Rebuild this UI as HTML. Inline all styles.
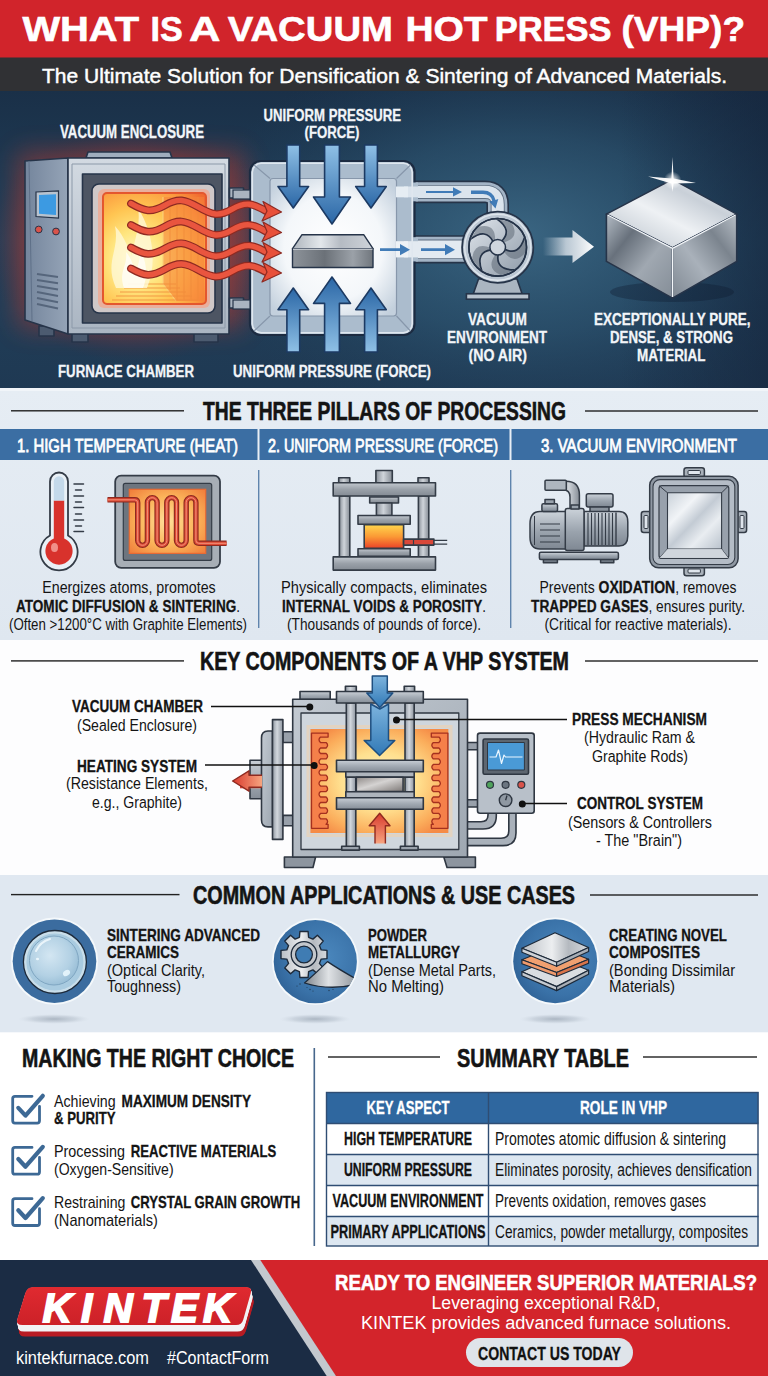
<!DOCTYPE html>
<html lang="en"><head><meta charset="utf-8"><title>What is a Vacuum Hot Press (VHP)?</title>
<style>
html,body{margin:0;padding:0;background:#fff;}
body{width:768px;height:1376px;overflow:hidden;font-family:"Liberation Sans", Arial, sans-serif;}
svg{display:block;font-family:"Liberation Sans", Arial, sans-serif;}
text{white-space:pre;}
</style></head><body>
<svg width="768" height="1376" viewBox="0 0 768 1376">
<!-- s0_defs -->
<g id="s0_defs">
</g>
<!-- s1_header -->
<g id="s1_header">

<rect x="0" y="0" width="768" height="58" fill="#d1242b"/>
<rect x="0" y="57.5" width="768" height="34" fill="#303134"/>
<text x="22.4" y="41.0" font-size="35.5" font-weight="700" fill="#fff" textLength="116.7" lengthAdjust="spacingAndGlyphs" stroke="#fff" stroke-width="0.6">WHAT</text>
<text x="150.6" y="41.0" font-size="35.5" font-weight="700" fill="#fff" textLength="32.3" lengthAdjust="spacingAndGlyphs" stroke="#fff" stroke-width="0.6">IS</text>
<text x="189.0" y="41.0" font-size="35.5" font-weight="700" fill="#fff" textLength="31.4" lengthAdjust="spacingAndGlyphs" stroke="#fff" stroke-width="0.6">A</text>
<text x="227.8" y="41.0" font-size="35.5" font-weight="700" fill="#fff" textLength="165.1" lengthAdjust="spacingAndGlyphs" stroke="#fff" stroke-width="0.6">VACUUM</text>
<text x="405.4" y="41.0" font-size="35.5" font-weight="700" fill="#fff" textLength="82.2" lengthAdjust="spacingAndGlyphs" stroke="#fff" stroke-width="0.6">HOT</text>
<text x="494.7" y="41.0" font-size="35.5" font-weight="700" fill="#fff" textLength="116.9" lengthAdjust="spacingAndGlyphs" stroke="#fff" stroke-width="0.6">PRESS</text>
<text x="621.4" y="41.0" font-size="35.5" font-weight="700" fill="#fff" textLength="123.7" lengthAdjust="spacingAndGlyphs" stroke="#fff" stroke-width="0.6">(VHP)?</text>
<text x="42" y="83.2" font-size="21" font-weight="400" fill="#fff" textLength="685" lengthAdjust="spacingAndGlyphs" stroke="#fff" stroke-width="0.45">The Ultimate Solution for Densification &amp; Sintering of Advanced Materials.</text>
</g>
<!-- s2_hero -->
<g id="s2_hero">

<defs>
<linearGradient id="hBg" x1="0" y1="0" x2="0" y2="1">
 <stop offset="0" stop-color="#1a3048"/><stop offset="0.5" stop-color="#21405a"/><stop offset="1" stop-color="#1f3953"/>
</linearGradient>
<radialGradient id="hGlow" gradientUnits="userSpaceOnUse" cx="520" cy="235" r="330" gradientTransform="translate(0 94) scale(1 0.6)">
 <stop offset="0" stop-color="#3f6c89" stop-opacity="0.85"/><stop offset="0.5" stop-color="#315c79" stop-opacity="0.5"/><stop offset="1" stop-color="#1f3f5c" stop-opacity="0"/>
</radialGradient>
<linearGradient id="hVig" x1="0" y1="0" x2="1" y2="0"><stop offset="0" stop-color="#14233a" stop-opacity="0"/><stop offset="1" stop-color="#14233a" stop-opacity="0.55"/></linearGradient>
<filter id="blur9" x="-20%" y="-20%" width="140%" height="140%"><feGaussianBlur stdDeviation="12"/></filter>
<radialGradient id="hRed" gradientUnits="userSpaceOnUse" cx="135" cy="243" r="150" gradientTransform="translate(0 48.600) scale(1 0.8)">
 <stop offset="0" stop-color="#d0402e" stop-opacity="0.8"/><stop offset="0.62" stop-color="#a83a34" stop-opacity="0.5"/><stop offset="0.82" stop-color="#7a3038" stop-opacity="0.22"/><stop offset="1" stop-color="#5a2a35" stop-opacity="0"/>
</radialGradient>
<linearGradient id="fSide" x1="0" y1="0" x2="1" y2="0"><stop offset="0" stop-color="#74859c"/><stop offset="1" stop-color="#95a4b7"/></linearGradient>
<linearGradient id="fFront" x1="0" y1="0" x2="0" y2="1"><stop offset="0" stop-color="#d3dae2"/><stop offset="1" stop-color="#aab5c2"/></linearGradient>
<radialGradient id="fFire" cx="0.33" cy="0.6" r="0.85">
 <stop offset="0" stop-color="#fffbd0"/><stop offset="0.3" stop-color="#ffe680"/><stop offset="0.55" stop-color="#ffc552"/><stop offset="0.8" stop-color="#fb9a3f"/><stop offset="1" stop-color="#f06a30"/>
</radialGradient>
<radialGradient id="chGlow" cx="0.5" cy="0.5" r="0.65">
 <stop offset="0" stop-color="#ffffff"/><stop offset="0.6" stop-color="#f4f7fa"/><stop offset="1" stop-color="#c3d0dd"/>
</radialGradient>
<linearGradient id="bArrD" x1="0" y1="0" x2="0" y2="1"><stop offset="0" stop-color="#8fc0e6"/><stop offset="1" stop-color="#2b67a6"/></linearGradient>
<linearGradient id="bArrU" x1="0" y1="1" x2="0" y2="0"><stop offset="0" stop-color="#8fc0e6"/><stop offset="1" stop-color="#2b67a6"/></linearGradient>
<linearGradient id="blkTop" x1="0" y1="0" x2="1" y2="0"><stop offset="0" stop-color="#aeb5bd"/><stop offset="0.35" stop-color="#e3e7eb"/><stop offset="0.6" stop-color="#b5bbc3"/><stop offset="1" stop-color="#cfd4da"/></linearGradient>
<linearGradient id="blkFront" x1="0" y1="0" x2="1" y2="0"><stop offset="0" stop-color="#8d939a"/><stop offset="0.4" stop-color="#6b7178"/><stop offset="0.75" stop-color="#9ba1a8"/><stop offset="1" stop-color="#70767d"/></linearGradient>
<linearGradient id="bigArr" gradientUnits="userSpaceOnUse" x1="543" y1="0" x2="594" y2="0"><stop offset="0" stop-color="#dfe6ee" stop-opacity="0"/><stop offset="0.45" stop-color="#e6ebf1" stop-opacity="0.75"/><stop offset="1" stop-color="#ffffff"/></linearGradient>
<linearGradient id="cTop" x1="0" y1="1" x2="1" y2="0"><stop offset="0" stop-color="#b4bdc7"/><stop offset="0.45" stop-color="#eef1f4"/><stop offset="0.7" stop-color="#c9d0d8"/><stop offset="1" stop-color="#f7f9fb"/></linearGradient>
<linearGradient id="cLeft" x1="0" y1="0" x2="1" y2="1"><stop offset="0" stop-color="#b4bcc5"/><stop offset="0.3" stop-color="#68717c"/><stop offset="0.6" stop-color="#a0a8b1"/><stop offset="1" stop-color="#848d97"/></linearGradient>
<linearGradient id="cRight" x1="0" y1="1" x2="1" y2="0"><stop offset="0" stop-color="#7f8892"/><stop offset="0.4" stop-color="#a9b1ba"/><stop offset="0.7" stop-color="#7b848e"/><stop offset="1" stop-color="#b9c0c8"/></linearGradient>
<radialGradient id="spark" cx="0.5" cy="0.5" r="0.5"><stop offset="0" stop-color="#fff"/><stop offset="0.4" stop-color="#fff" stop-opacity="0.6"/><stop offset="1" stop-color="#fff" stop-opacity="0"/></radialGradient>
<linearGradient id="fanG" x1="0" y1="0" x2="1" y2="1"><stop offset="0" stop-color="#dfe5eb"/><stop offset="1" stop-color="#8e9aa8"/></linearGradient>
</defs>
<rect x="0" y="91" width="768" height="298" fill="url(#hBg)"/>
<rect x="0" y="91" width="768" height="298" fill="url(#hGlow)"/>
<rect x="0" y="91" width="420" height="298" fill="url(#hRed)"/>
<rect x="620" y="91" width="148" height="298" fill="url(#hVig)"/>
<rect x="16" y="150" width="230" height="180" rx="10" fill="#bb3d30" opacity="0.45" filter="url(#blur9)"/>

<g stroke="#263449" stroke-width="1.6" stroke-linejoin="round">
 <!-- feet -->
 <path d="M39 326h15v10h-15z M72 333h16v9h-16z M194 333h24v9h-24z" fill="#4c5b70"/>
 <!-- top vent -->
 <path d="M86 158l2-6h82l2 6z" fill="#9fadbd"/>
 <!-- left side -->
 <path d="M25 161L68 158V334L25 320Z" fill="url(#fSide)"/>
 <path d="M29 161L32 321" stroke="#5f7088" stroke-width="1" fill="none"/>
 <!-- front -->
 <rect x="68" y="158" width="161" height="176" fill="url(#fFront)"/>
 <rect x="72" y="164" width="153" height="164" fill="none" stroke="#8c99a9" stroke-width="1"/>
 <!-- hinges -->
 <rect x="229.5" y="188" width="14" height="10" fill="#aab4c0"/>
 <rect x="229.5" y="298" width="14" height="10" fill="#aab4c0"/>
 <!-- dark inner -->
 <rect x="82.5" y="174" width="139.5" height="149" fill="#4d5563"/>
 <rect x="92" y="184" width="123" height="129" rx="7" fill="#cfc8c8"/>
 <rect x="98" y="189" width="112" height="119" rx="6" fill="#f3a48a" stroke="none" opacity="0.7"/>
 <rect x="103" y="193" width="103" height="111" rx="4" fill="url(#fFire)" stroke="#e4572e" stroke-width="2"/>
</g>
<!-- fire interior details -->
<path d="M163 197H204V301H176L163 284Z" fill="#f5823a" opacity="0.55"/>
<path d="M163 197V284L176 301" fill="none" stroke="#fbd27a" stroke-width="1.200" opacity="0.9"/>
<g fill="none" stroke="#f08a3a" stroke-width="1" opacity="0.8">
 <path d="M170 197V290M177 197V300M184 197V300M191 197V300M198 197V300"/>
 <path d="M112 300H198M116 296H192M120 292H186M124 288H180M128 284H176"/>
 
</g>
<path d="M116 288C104 262 120 250 115 226C126 238 128 250 132 256C134 240 141 226 138 208C152 230 158 262 147 288Z" fill="#fff8d8" opacity="0.78"/>
<path d="M124 288C118 272 128 266 126 252C133 260 133 268 136 272C138 264 141 258 140 250C147 262 148 276 143 288Z" fill="#ffffff" opacity="0.7"/>
<!-- screen / dots / vents -->
<path d="M36 192L58.5 191V218L36 216.5Z" fill="#b8c3cf" stroke="#263449" stroke-width="1.2"/>
<path d="M39 195L56 194.3V215L39 213.8Z" fill="#3c9ae2"/>
<circle cx="38.7" cy="229.5" r="3.4" fill="#d9534a" stroke="#263449" stroke-width="1"/>
<circle cx="56" cy="231.5" r="3.4" fill="#d9534a" stroke="#263449" stroke-width="1"/>
<g stroke="#56667c" stroke-width="2" fill="none">
 <path d="M37 274l21 3M37 280l21 3.3M37 286l21 3.6M37 292l21 3.9M37 298l21 4.2M37 304l21 4.5"/>
</g>

<g fill="none" stroke-linejoin="round">
 <path d="M404 191.900H485Q497.700 191.900 497.700 204.500V224" stroke="#263449" stroke-width="22.600"/>
 <path d="M404 249.300H470" stroke="#263449" stroke-width="28.200"/>
 <path d="M404 191.900H485Q497.700 191.900 497.700 204.500V224" stroke="#a3b4c6" stroke-width="19.400"/>
 <path d="M404 249.300H470" stroke="#a3b4c6" stroke-width="25"/>
 <path d="M404 191.900H485Q497.700 191.900 497.700 204.500V224" stroke="#263449" stroke-width="14" opacity="0.55"/>
 <path d="M404 249.300H470" stroke="#263449" stroke-width="19.600" opacity="0.55"/>
 <path d="M404 191.900H485Q497.700 191.900 497.700 204.500V224" stroke="#dbe4ed" stroke-width="12.200"/>
 <path d="M404 249.300H470" stroke="#e3eaf1" stroke-width="17.800"/>
</g>
<g stroke="#1c2b41" stroke-width="2.200" stroke-linejoin="round">
 <rect x="250" y="161" width="164.500" height="174" rx="11" fill="#abbccd"/>
</g>
<!-- junction fills hide chamber outline where pipes attach -->
<rect x="408" y="182.500" width="10" height="18.800" fill="#abbccd"/>
<rect x="408" y="237.200" width="10" height="24.200" fill="#abbccd"/>
<rect x="404" y="186.500" width="16" height="10.800" fill="#dbe4ed"/>
<rect x="404" y="241.200" width="16" height="16.200" fill="#e3eaf1"/>
<rect x="252.300" y="163.300" width="159.900" height="169.400" rx="9" fill="none" stroke="#dfe7ef" stroke-width="1.600"/>
<rect x="270" y="178.500" width="126.500" height="137.500" rx="3" fill="url(#chGlow)" stroke="#8797ab" stroke-width="1.200"/>
<path d="M254 165L270 178.500M410.500 165L396.500 178.500M254 331L270 316M410.500 331L396.500 316" stroke="#8797ab" stroke-width="1.200"/>
<rect x="396" y="186.500" width="12" height="10.800" fill="#e6edf3"/>
<rect x="396" y="241.200" width="12" height="16.200" fill="#eef2f6"/>
<!-- door tabs left -->
<rect x="233" y="190" width="17" height="9" fill="#aab4c0" stroke="#263449" stroke-width="1.200"/>
<rect x="233" y="300" width="17" height="9" fill="#aab4c0" stroke="#263449" stroke-width="1.200"/>
<!-- small blue arrows in pipes -->
<g fill="#2f6fb0">
 <path d="M426 190.900h27v-3.600l9 4.600-9 4.600v-3.600h-27z" opacity="0.9"/>
 <path d="M471 190.400h12q10 0 12.500 9.500l2.800-.8-2.800 9.400-6.200-7 3-.8q-1.800-6.800-9.300-6.800h-12z" opacity="0.9"/>
 <path d="M380 248.300h20v-4.200l10 5.600-10 5.600v-4.200h-20z" opacity="0.9"/>
 <path d="M421 248.300h24v-4.200l10 5.600-10 5.600v-4.200h-24z" opacity="0.9"/>
</g>
<path d="M286.90000000000003 145H299.7V186.5H308.6L293.3 208L278.0 186.5H286.90000000000003Z" fill="url(#bArrD)" stroke="#1c3a63" stroke-width="1.6" stroke-linejoin="round"/>
<path d="M324.6 145H339.4V197H350.5L332 224L313.5 197H324.6Z" fill="url(#bArrD)" stroke="#1c3a63" stroke-width="1.6" stroke-linejoin="round"/>
<path d="M364.6 145H377.4V186.5H386.3L371 208L355.7 186.5H364.6Z" fill="url(#bArrD)" stroke="#1c3a63" stroke-width="1.6" stroke-linejoin="round"/>
<path d="M286.90000000000003 352H299.7V309.7H308.6L293.3 288L278.0 309.7H286.90000000000003Z" fill="url(#bArrU)" stroke="#1c3a63" stroke-width="1.6" stroke-linejoin="round"/>
<path d="M324.6 352H339.4V303.4H350.5L332 277L313.5 303.4H324.6Z" fill="url(#bArrU)" stroke="#1c3a63" stroke-width="1.6" stroke-linejoin="round"/>
<path d="M364.6 352H377.4V309.7H386.3L371 288L355.7 309.7H364.6Z" fill="url(#bArrU)" stroke="#1c3a63" stroke-width="1.6" stroke-linejoin="round"/>

<path d="M302 234.700H363.700L373 248.700H292.500Z" fill="url(#blkTop)" stroke="#263449" stroke-width="1.4" stroke-linejoin="round"/>
<path d="M292.500 248.700H373V267.500H292.500Z" fill="url(#blkFront)" stroke="#263449" stroke-width="1.4" stroke-linejoin="round"/>
<path d="M293 249.200H372.500" stroke="#eef1f4" stroke-width="1"/>
<path d="M131 203.5 C144.5 211.3 151.2 213.2 164.8 205.4 C178.2 197.6 185.0 199.4 198.5 207.2 C212.0 215.1 218.8 216.9 232.2 209.1 C245.8 201.3 252.5 203.2 266.0 211.0" fill="none" stroke="#8e2a22" stroke-width="7.8" stroke-linecap="round"/>
<path d="M131 203.5 C144.5 211.3 151.2 213.2 164.8 205.4 C178.2 197.6 185.0 199.4 198.5 207.2 C212.0 215.1 218.8 216.9 232.2 209.1 C245.8 201.3 252.5 203.2 266.0 211.0" fill="none" stroke="#e9553f" stroke-width="5.4" stroke-linecap="round"/>
<path d="M263 201.5L281.5 212L262 221L267 211Z" fill="#e8503a" stroke="#8e2a22" stroke-width="1.2" stroke-linejoin="round"/>
<path d="M131 225 C144.5 232.8 151.2 234.4 164.8 226.6 C178.2 218.8 185.0 220.4 198.5 228.2 C212.0 236.1 218.8 237.7 232.2 229.9 C245.8 222.1 252.5 223.7 266.0 231.5" fill="none" stroke="#8e2a22" stroke-width="7.8" stroke-linecap="round"/>
<path d="M131 225 C144.5 232.8 151.2 234.4 164.8 226.6 C178.2 218.8 185.0 220.4 198.5 228.2 C212.0 236.1 218.8 237.7 232.2 229.9 C245.8 222.1 252.5 223.7 266.0 231.5" fill="none" stroke="#e9553f" stroke-width="5.4" stroke-linecap="round"/>
<path d="M263 222.0L281.5 232.5L262 241.5L267 231.5Z" fill="#e8503a" stroke="#8e2a22" stroke-width="1.2" stroke-linejoin="round"/>
<path d="M131 247.5 C144.5 255.3 151.2 256.4 164.8 248.6 C178.2 240.8 185.0 241.9 198.5 249.8 C212.0 257.6 218.8 258.7 232.2 250.9 C245.8 243.1 252.5 244.2 266.0 252.0" fill="none" stroke="#8e2a22" stroke-width="7.8" stroke-linecap="round"/>
<path d="M131 247.5 C144.5 255.3 151.2 256.4 164.8 248.6 C178.2 240.8 185.0 241.9 198.5 249.8 C212.0 257.6 218.8 258.7 232.2 250.9 C245.8 243.1 252.5 244.2 266.0 252.0" fill="none" stroke="#e9553f" stroke-width="5.4" stroke-linecap="round"/>
<path d="M263 242.5L281.5 253L262 262L267 252Z" fill="#e8503a" stroke="#8e2a22" stroke-width="1.2" stroke-linejoin="round"/>
<path d="M131 268.5 C144.5 276.3 151.2 277.2 164.8 269.4 C178.2 261.6 185.0 262.4 198.5 270.2 C212.0 278.1 218.8 278.9 232.2 271.1 C245.8 263.3 252.5 264.2 266.0 272.0" fill="none" stroke="#8e2a22" stroke-width="7.8" stroke-linecap="round"/>
<path d="M131 268.5 C144.5 276.3 151.2 277.2 164.8 269.4 C178.2 261.6 185.0 262.4 198.5 270.2 C212.0 278.1 218.8 278.9 232.2 271.1 C245.8 263.3 252.5 264.2 266.0 272.0" fill="none" stroke="#e9553f" stroke-width="5.4" stroke-linecap="round"/>
<path d="M263 262.5L281.5 273L262 282L267 272Z" fill="#e8503a" stroke="#8e2a22" stroke-width="1.2" stroke-linejoin="round"/>

<path d="M478.500 279L473.400 293.600H522L517 279Z" fill="#aab5c1" stroke="#263449" stroke-width="1.600" stroke-linejoin="round"/>
<rect x="466.400" y="293.800" width="62.600" height="5.400" fill="#b9c3ce" stroke="#263449" stroke-width="1.600"/>
<circle cx="497.7" cy="247.3" r="35.600" fill="#bcc7d3" stroke="#263449" stroke-width="1.800"/>
<circle cx="497.7" cy="247.3" r="33" fill="none" stroke="#dfe6ed" stroke-width="1.400"/>
<circle cx="497.7" cy="247.3" r="28.800" fill="url(#fanG)" stroke="#263449" stroke-width="1.600"/>
<clipPath id="fanClip"><circle cx="497.7" cy="247.3" r="28"/></clipPath>
<g clip-path="url(#fanClip)">
<path d="M501.4 241.4Q513.1 230.2 496.7 218.8L511.1 222.1Q520.9 237.9 503.1 242.8Z" fill="#5f6a77" opacity="0.55"/>
<path d="M501.4 241.4Q513.1 230.2 496.7 218.8" fill="none" stroke="#263449" stroke-width="1.700" stroke-linecap="round"/>
<path d="M504.5 249.0Q518.7 256.7 524.5 237.6L525.8 252.2Q513.8 266.5 503.6 251.0Z" fill="#5f6a77" opacity="0.55"/>
<path d="M504.5 249.0Q518.7 256.7 524.5 237.6" fill="none" stroke="#263449" stroke-width="1.700" stroke-linecap="round"/>
<path d="M498.2 254.3Q495.3 270.2 515.2 269.8L501.7 275.5Q484.5 268.5 496.0 254.1Z" fill="#5f6a77" opacity="0.55"/>
<path d="M498.2 254.3Q495.3 270.2 515.2 269.8" fill="none" stroke="#263449" stroke-width="1.700" stroke-linecap="round"/>
<path d="M491.2 249.9Q475.2 252.1 481.8 270.9L472.1 259.8Q473.4 241.3 490.7 247.8Z" fill="#5f6a77" opacity="0.55"/>
<path d="M491.2 249.9Q475.2 252.1 481.8 270.9" fill="none" stroke="#263449" stroke-width="1.700" stroke-linecap="round"/>
<path d="M493.2 241.9Q486.2 227.4 470.3 239.4L477.9 226.8Q496.0 222.4 495.1 240.8Z" fill="#5f6a77" opacity="0.55"/>
<path d="M493.2 241.9Q486.2 227.4 470.3 239.4" fill="none" stroke="#263449" stroke-width="1.700" stroke-linecap="round"/>
</g>
<circle cx="497.7" cy="247.3" r="28.800" fill="none" stroke="#263449" stroke-width="1.600"/>
<circle cx="497.7" cy="247.3" r="7.800" fill="#cfd6de" stroke="#263449" stroke-width="1.500"/>
<path d="M543 237.500H572.500V230L594 246.800L572.500 263V255.400H543Z" fill="url(#bigArr)"/>

<ellipse cx="672" cy="292" rx="62" ry="10" fill="#0e1b2e" opacity="0.35"/>
<g stroke="#263449" stroke-width="1.6" stroke-linejoin="round">
<path d="M672.500 179.400L736.700 214.100L672.500 247.900L606.400 214.100Z" fill="url(#cTop)"/>
<path d="M606.400 214.100L672.500 247.900V298.100L606.400 261.400Z" fill="url(#cLeft)"/>
<path d="M736.700 214.100L672.500 247.900V298.100L736.700 261.400Z" fill="url(#cRight)"/>
</g>
<path d="M607.500 215L672.500 248.300L735.600 215M672.500 248.300V297" fill="none" stroke="#f4f7fa" stroke-width="1.4" stroke-linejoin="round"/>
<circle cx="672.500" cy="180.500" r="9" fill="url(#spark)"/>
<path d="M672.500 157L673.600 178.500L696 183L673.600 183.500L672.500 192L671.400 183.500L648 176.500L671.400 178.500Z" fill="#fff" opacity="0.95"/>
<text x="60" y="138.4" font-size="17.8" font-weight="700" fill="#f2f5f9" textLength="144" lengthAdjust="spacingAndGlyphs" stroke="#f2f5f9" stroke-width="0.3">VACUUM ENCLOSURE</text>
<text x="263.55" y="120.7" font-size="17.2" font-weight="700" fill="#f2f5f9" textLength="137.5" lengthAdjust="spacingAndGlyphs" stroke="#f2f5f9" stroke-width="0.3">UNIFORM PRESSURE</text>
<text x="304.5" y="137.8" font-size="17.2" font-weight="700" fill="#f2f5f9" textLength="55.0" lengthAdjust="spacingAndGlyphs" stroke="#f2f5f9" stroke-width="0.3">(FORCE)</text>
<text x="58" y="376.6" font-size="17.4" font-weight="700" fill="#f2f5f9" textLength="136" lengthAdjust="spacingAndGlyphs" stroke="#f2f5f9" stroke-width="0.3">FURNACE CHAMBER</text>
<text x="233" y="376.6" font-size="17.4" font-weight="700" fill="#f2f5f9" textLength="198" lengthAdjust="spacingAndGlyphs" stroke="#f2f5f9" stroke-width="0.3">UNIFORM PRESSURE (FORCE)</text>
<text x="468.0" y="325.4" font-size="17.4" font-weight="700" fill="#f2f5f9" textLength="59.0" lengthAdjust="spacingAndGlyphs" stroke="#f2f5f9" stroke-width="0.3">VACUUM</text>
<text x="447.0" y="343.4" font-size="17.4" font-weight="700" fill="#f2f5f9" textLength="100.0" lengthAdjust="spacingAndGlyphs" stroke="#f2f5f9" stroke-width="0.3">ENVIRONMENT</text>
<text x="468.45" y="361.4" font-size="17.4" font-weight="700" fill="#f2f5f9" textLength="58.5" lengthAdjust="spacingAndGlyphs" stroke="#f2f5f9" stroke-width="0.3">(NO AIR)</text>
<text x="593.95" y="325.4" font-size="17.4" font-weight="700" fill="#f2f5f9" textLength="156.5" lengthAdjust="spacingAndGlyphs" stroke="#f2f5f9" stroke-width="0.3">EXCEPTIONALLY PURE,</text>
<text x="610.0" y="343.4" font-size="17.4" font-weight="700" fill="#f2f5f9" textLength="123.0" lengthAdjust="spacingAndGlyphs" stroke="#f2f5f9" stroke-width="0.3">DENSE, &amp; STRONG</text>
<text x="637.05" y="361.4" font-size="17.4" font-weight="700" fill="#f2f5f9" textLength="68.5" lengthAdjust="spacingAndGlyphs" stroke="#f2f5f9" stroke-width="0.3">MATERIAL</text>
</g>
<!-- s3_pillars -->
<g id="s3_pillars">

<defs>
<linearGradient id="pBg" x1="0" y1="0" x2="0" y2="1"><stop offset="0" stop-color="#e6edf4"/><stop offset="1" stop-color="#dfe7f0"/></linearGradient>
<radialGradient id="htGlow" cx="0.5" cy="0.5" r="0.7"><stop offset="0" stop-color="#ffe09a"/><stop offset="0.55" stop-color="#fbb45a"/><stop offset="1" stop-color="#f07c3a"/></radialGradient>
<linearGradient id="hotS" x1="0" y1="0" x2="0" y2="1"><stop offset="0" stop-color="#ffd54d"/><stop offset="0.5" stop-color="#fb9a35"/><stop offset="1" stop-color="#ea4328"/></linearGradient>
<linearGradient id="stl" x1="0" y1="0" x2="0" y2="1"><stop offset="0" stop-color="#c3c9d0"/><stop offset="0.5" stop-color="#9aa1a9"/><stop offset="1" stop-color="#848b94"/></linearGradient>
<linearGradient id="stlH" x1="0" y1="0" x2="1" y2="0"><stop offset="0" stop-color="#8a919a"/><stop offset="0.45" stop-color="#cfd4da"/><stop offset="1" stop-color="#858c95"/></linearGradient>
<linearGradient id="glass" x1="0" y1="0" x2="1" y2="1"><stop offset="0" stop-color="#c9d1d9"/><stop offset="0.3" stop-color="#f1f4f7"/><stop offset="0.5" stop-color="#c3cbd4"/><stop offset="0.7" stop-color="#e9edf1"/><stop offset="1" stop-color="#b9c2cc"/></linearGradient>
<linearGradient id="pump" x1="0" y1="0" x2="0" y2="1"><stop offset="0" stop-color="#ccd3da"/><stop offset="0.55" stop-color="#9aa3ad"/><stop offset="1" stop-color="#7f8893"/></linearGradient>
</defs>
<rect x="0" y="388" width="768" height="252.500" fill="url(#pBg)"/>
<rect x="0" y="388" width="768" height="3" fill="#f1f5f9"/>
<rect x="0" y="429" width="768" height="31" fill="#3b6ea3"/>
<rect x="257.500" y="429" width="2" height="31" fill="#e8eef5"/>
<rect x="509.500" y="429" width="2" height="31" fill="#e8eef5"/>
<rect x="258" y="470" width="1.400" height="158" fill="#5f84ad"/>
<rect x="510" y="470" width="1.400" height="158" fill="#5f84ad"/>
<rect x="11" y="410.100" width="173" height="1.400" fill="#222"/>
<rect x="585" y="410.300" width="173" height="1.400" fill="#222"/>

<g stroke="#343c47" stroke-linejoin="round">
<path d="M50 481.500a9 9 0 0 1 18 0V535.500a18.600 18.600 0 1 1-18 0Z" fill="#e9f0f6" stroke-width="1.800"/>
<path d="M53.800 500.500H64.200V538.500a13.600 13.600 0 1 1-10.400 0Z" fill="#d8322c" stroke="none"/>
<path d="M53.800 481.500a5.200 5.200 0 0 1 10.400 0V500.500H53.800Z" fill="#c4d9ea" stroke="none"/>
</g>
<ellipse cx="54.500" cy="547.500" rx="3.500" ry="4.500" fill="#f4a19a" opacity="0.85"/>
<g stroke="#343c47" stroke-width="1.500" stroke-linecap="round">
<path d="M74 484H83.500M75.500 490H81.500M74 496H83.500M75.500 502H81.500M74 507.500H83.500M75.500 514H81.500M74 520H83.500M75.500 526H81.500M74 531.500H83.500"/>
</g>

<rect x="115.200" y="475.600" width="104.800" height="92.200" rx="6" fill="#a7aeb6" stroke="#343c47" stroke-width="1.800"/>
<rect x="123.300" y="483.400" width="88.400" height="77" rx="2" fill="#6d757f" stroke="#343c47" stroke-width="1.200"/>
<rect x="129.300" y="489.300" width="76.400" height="64.100" fill="url(#htGlow)" stroke="#e86a34" stroke-width="1.200"/>
<path d="M107.500 499.800H134.7Q137.7 499.800 137.7 502.8V540.5A4.8500000000000085 4.8500000000000085 0 0 0 147.4 540.5V502.5A4.8500000000000085 4.8500000000000085 0 0 1 157.1 502.5V540.5A4.8500000000000085 4.8500000000000085 0 0 0 166.8 540.5V502.5A4.8500000000000085 4.8500000000000085 0 0 1 176.5 502.5V540.5A4.8500000000000085 4.8500000000000085 0 0 0 186.2 540.5V502.5A4.8500000000000085 4.8500000000000085 0 0 1 195.9 502.5V540.3Q195.9 543.300 198.9 543.300H226.600" fill="none" stroke="#8d2a20" stroke-width="5.400" stroke-linejoin="round"/>
<path d="M107.500 499.800H134.7Q137.7 499.800 137.7 502.8V540.5A4.8500000000000085 4.8500000000000085 0 0 0 147.4 540.5V502.5A4.8500000000000085 4.8500000000000085 0 0 1 157.1 502.5V540.5A4.8500000000000085 4.8500000000000085 0 0 0 166.8 540.5V502.5A4.8500000000000085 4.8500000000000085 0 0 1 176.5 502.5V540.5A4.8500000000000085 4.8500000000000085 0 0 0 186.2 540.5V502.5A4.8500000000000085 4.8500000000000085 0 0 1 195.9 502.5V540.3Q195.9 543.300 198.9 543.300H226.600" fill="none" stroke="#de4a35" stroke-width="3.200" stroke-linejoin="round"/>
<path d="M107.500 499.800H134.7Q137.7 499.800 137.7 502.8V540.5A4.8500000000000085 4.8500000000000085 0 0 0 147.4 540.5V502.5A4.8500000000000085 4.8500000000000085 0 0 1 157.1 502.5V540.5A4.8500000000000085 4.8500000000000085 0 0 0 166.8 540.5V502.5A4.8500000000000085 4.8500000000000085 0 0 1 176.5 502.5V540.5A4.8500000000000085 4.8500000000000085 0 0 0 186.2 540.5V502.5A4.8500000000000085 4.8500000000000085 0 0 1 195.9 502.5V540.3Q195.9 543.300 198.9 543.300H226.600" fill="none" stroke="#f39a82" stroke-width="0.900" stroke-linejoin="round"/>

<g stroke="#343c47" stroke-width="1.600" stroke-linejoin="round">
<rect x="375.900" y="470.500" width="16.400" height="12.500" fill="url(#stlH)"/>
<rect x="338.700" y="477.800" width="11.100" height="5" fill="url(#stlH)"/>
<rect x="418" y="477.800" width="11" height="5" fill="url(#stlH)"/>
<rect x="339.400" y="496" width="10.400" height="61" fill="url(#stlH)"/>
<rect x="418.400" y="496" width="10.400" height="61" fill="url(#stlH)"/>
<rect x="333.200" y="482.700" width="102.300" height="13.300" fill="url(#stl)"/>
<rect x="369.700" y="497" width="28.800" height="6" fill="url(#stl)"/>
<rect x="376.400" y="503" width="15.500" height="12.500" fill="url(#stlH)"/>
<rect x="358" y="515.500" width="52.200" height="8.800" fill="url(#stl)"/>
<rect x="364.200" y="524.800" width="39.400" height="23.400" fill="url(#hotS)"/>
<rect x="358" y="548.700" width="52.200" height="7.500" fill="url(#stl)"/>
<rect x="333.200" y="556.900" width="102.300" height="13.200" fill="url(#stl)"/>
<path d="M433.900 540.300H447.200M433.900 544.200H447.200" stroke-width="1.300" fill="none"/>
<rect x="403.600" y="539.100" width="30.300" height="6" fill="#d9483a"/>
<path d="M413.500 539.100V545.100" stroke-width="1.200"/>
</g>

<g stroke="#343c47" stroke-width="1.500" stroke-linejoin="round">
<rect x="543.400" y="559" width="14" height="3.800" fill="#6f7883"/>
<rect x="600.600" y="559" width="13.200" height="3.800" fill="#6f7883"/>
<rect x="539.400" y="552.200" width="79" height="7.200" rx="1.500" fill="url(#pump)"/>
<!-- pipe -->
<path d="M570 512V497Q570 489.700 563 489.700H560V481.300H566Q579.400 481.300 579.400 495V512Z" fill="url(#stlH)"/>
<rect x="545" y="480.300" width="21.300" height="10" rx="1" fill="#aeb6bf"/>
<!-- motor -->
<rect x="586.300" y="493.800" width="26.700" height="13.100" rx="2" fill="url(#pump)"/>
<rect x="590" y="506.900" width="19" height="5" fill="#8a939d"/>
<path d="M584 511.600H619Q627.800 511.600 627.800 522V536Q627.800 546 619 546H584Z" fill="url(#pump)"/>
<!-- left head -->
<path d="M566.900 511.600H540Q530 511.600 530 524V537Q530 549 540 549H566.900Z" fill="url(#pump)"/>
<rect x="541.900" y="503.800" width="15.600" height="7.800" rx="1.500" fill="url(#pump)"/>
<rect x="545" y="499.500" width="9.400" height="4.300" fill="#9aa3ad"/>
<!-- flange -->
<rect x="565.300" y="508.400" width="18.700" height="42.200" rx="2" fill="url(#pump)"/>
<rect x="571" y="505" width="8" height="4" fill="#9aa3ad"/>
</g>
<g stroke="#343c47" stroke-width="1.100" fill="none">
<path d="M540 524H560M540 530H560M540 536H560M540 542H560"/>
<path d="M588 513V545M591.500 513V545M595 513V545M598.500 513V545M602 513V545M605.500 513V545M609 513V545M612.500 513V545"/>
<path d="M616 512.500V545.500" stroke-width="1.400"/>
<path d="M534.500 516V545" stroke-width="1"/>
</g>

<g stroke="#343c47" stroke-width="1.500" stroke-linejoin="round">
<rect x="684" y="467.800" width="20.400" height="10" rx="2.500" fill="#a9b1ba"/>
<rect x="684" y="566" width="20.400" height="9.800" rx="2.500" fill="#a9b1ba"/>
<rect x="641.300" y="511.600" width="10" height="21" rx="2.500" fill="#a9b1ba"/>
<rect x="736.500" y="511.600" width="10.100" height="21" rx="2.500" fill="#a9b1ba"/>
<rect x="688" y="470.500" width="12.400" height="4" rx="1" fill="#dfe5ec" stroke-width="1"/>
<rect x="688" y="569" width="12.400" height="4" rx="1" fill="#dfe5ec" stroke-width="1"/>
<rect x="644" y="515.500" width="4" height="13" rx="1" fill="#dfe5ec" stroke-width="1"/>
<rect x="740" y="515.500" width="4" height="13" rx="1" fill="#dfe5ec" stroke-width="1"/>
<rect x="649.700" y="476.300" width="88.400" height="91.500" rx="9" fill="#8f98a3"/>
<rect x="653" y="479.600" width="81.800" height="84.900" rx="7" fill="#b4bcc6" stroke-width="1.100"/>
<rect x="659" y="485.600" width="69.800" height="72.800" rx="3" fill="#98a1ac" stroke-width="1.200"/>
<rect x="667.500" y="492.800" width="54.100" height="56.200" fill="url(#glass)" stroke-width="1.100"/>
<path d="M659 485.600L667.500 492.800M728.800 485.600L721.600 492.800M659 558.400L667.500 549M728.800 558.400L721.600 549" stroke-width="1"/>
</g>
<path d="M667.500 549L659.500 558H728.300L721.600 549Z" fill="#dfe4ea" opacity="0.8"/>
<text x="203" y="419.6" font-size="25" font-weight="700" fill="#141414" textLength="363" lengthAdjust="spacingAndGlyphs" stroke="#141414" stroke-width="0.6">THE THREE PILLARS OF PROCESSING</text>
<text x="17" y="451.9" font-size="19" font-weight="400" fill="#fff" textLength="221" lengthAdjust="spacingAndGlyphs" stroke="#fff" stroke-width="0.8">1. HIGH TEMPERATURE (HEAT)</text>
<text x="268" y="451.9" font-size="19" font-weight="400" fill="#fff" textLength="230" lengthAdjust="spacingAndGlyphs" stroke="#fff" stroke-width="0.8">2. UNIFORM PRESSURE (FORCE)</text>
<text x="541" y="451.9" font-size="19" font-weight="400" fill="#fff" textLength="196" lengthAdjust="spacingAndGlyphs" stroke="#fff" stroke-width="0.8">3. VACUUM ENVIRONMENT</text>
<text x="42.25" y="593.1" font-size="17.2" font-weight="400" fill="#141414" textLength="173.5" lengthAdjust="spacingAndGlyphs" >Energizes atoms, promotes</text>
<text x="16.0" y="611.7" font-size="17.2" font-weight="400" fill="#141414" textLength="224.0" lengthAdjust="spacingAndGlyphs" ><tspan font-weight="700" stroke="#141414" stroke-width="0.3">ATOMIC DIFFUSION &amp; SINTERING</tspan>.</text>
<text x="9.0" y="629.8" font-size="17.2" font-weight="400" fill="#141414" textLength="238.0" lengthAdjust="spacingAndGlyphs" >(Often &gt;1200°C with Graphite Elements)</text>
<text x="281.0" y="593.1" font-size="17.2" font-weight="400" fill="#141414" textLength="206.0" lengthAdjust="spacingAndGlyphs" >Physically compacts, eliminates</text>
<text x="282.0" y="611.7" font-size="17.2" font-weight="400" fill="#141414" textLength="204.0" lengthAdjust="spacingAndGlyphs" ><tspan font-weight="700" stroke="#141414" stroke-width="0.3">INTERNAL VOIDS &amp; POROSITY</tspan>.</text>
<text x="287.0" y="629.8" font-size="17.2" font-weight="400" fill="#141414" textLength="194.0" lengthAdjust="spacingAndGlyphs" >(Thousands of pounds of force).</text>
<text x="539.5" y="593.1" font-size="17.2" font-weight="400" fill="#141414" textLength="197.0" lengthAdjust="spacingAndGlyphs" >Prevents <tspan font-weight="700" stroke="#141414" stroke-width="0.3">OXIDATION</tspan>, removes</text>
<text x="531.0" y="611.7" font-size="17.2" font-weight="400" fill="#141414" textLength="214.0" lengthAdjust="spacingAndGlyphs" ><tspan font-weight="700" stroke="#141414" stroke-width="0.3">TRAPPED GASES</tspan>, ensures purity.</text>
<text x="544.5" y="629.8" font-size="17.2" font-weight="400" fill="#141414" textLength="187.0" lengthAdjust="spacingAndGlyphs" >(Critical for reactive materials).</text>
</g>
<!-- s4_components -->
<g id="s4_components">

<defs>
<radialGradient id="mGlow" cx="0.5" cy="0.5" r="0.62"><stop offset="0" stop-color="#fff4c4"/><stop offset="0.45" stop-color="#ffe08f"/><stop offset="0.8" stop-color="#fbae5c"/><stop offset="1" stop-color="#f58b46"/></radialGradient>
<linearGradient id="mSt" x1="0" y1="0" x2="0" y2="1"><stop offset="0" stop-color="#c9cfd6"/><stop offset="0.5" stop-color="#a3abb4"/><stop offset="1" stop-color="#868e98"/></linearGradient>
<linearGradient id="mStH" x1="0" y1="0" x2="1" y2="0"><stop offset="0" stop-color="#9098a2"/><stop offset="0.45" stop-color="#d2d7dd"/><stop offset="1" stop-color="#8d959f"/></linearGradient>
<linearGradient id="mWall" x1="0" y1="0" x2="1" y2="1"><stop offset="0" stop-color="#c3cad2"/><stop offset="1" stop-color="#9ea7b1"/></linearGradient>
<linearGradient id="mBlue" x1="0" y1="0" x2="0" y2="1"><stop offset="0" stop-color="#7db4de"/><stop offset="1" stop-color="#3179b6"/></linearGradient>
<linearGradient id="mRedU" x1="0" y1="0" x2="0" y2="1"><stop offset="0" stop-color="#d93a2e"/><stop offset="1" stop-color="#f6a47f"/></linearGradient>
<linearGradient id="mRedL" x1="0" y1="0" x2="1" y2="0"><stop offset="0" stop-color="#d93a2e"/><stop offset="1" stop-color="#f6a47f"/></linearGradient>
<linearGradient id="mSample" x1="0" y1="0" x2="1" y2="1"><stop offset="0" stop-color="#8f8a88"/><stop offset="0.45" stop-color="#d5d3d2"/><stop offset="1" stop-color="#7d7876"/></linearGradient>
</defs>
<rect x="0" y="640" width="768" height="236" fill="#fdfdfe"/>
<rect x="11" y="660.200" width="173" height="1.400" fill="#222"/>
<rect x="585" y="660.300" width="173" height="1.400" fill="#222"/>

<g stroke="#2f3742" stroke-width="1.600" stroke-linejoin="round">
<!-- feet -->
<path d="M284.400 857H315.600L313 867.500H284.400Z" fill="#8d959f"/>
<path d="M443.800 857H475.400V867.500H447Z" fill="#8d959f"/>
<!-- left door assembly -->
<rect x="250" y="760.200" width="12" height="38.600" fill="url(#mSt)"/>
<rect x="240" y="777.900" width="22" height="10.400" fill="url(#mRedL)" stroke="none"/>
<path d="M272.500 731H268Q261.500 731 261.500 738V820Q261.500 826.900 268 826.900H272.500Z" fill="url(#mWall)"/>
<rect x="282.900" y="731.700" width="10" height="10.800" fill="#98a0aa"/>
<rect x="282.900" y="815.400" width="10" height="10.400" fill="#98a0aa"/>
<rect x="272.500" y="719.600" width="10.400" height="119.800" fill="url(#mStH)"/>
<!-- top port -->
<rect x="300" y="691.500" width="30.200" height="8" fill="url(#mSt)"/>
<!-- panel connectors + pipes -->
<rect x="467" y="742.500" width="11" height="7.300" fill="#98a0aa"/>
<rect x="467" y="799.800" width="11" height="7.200" fill="#98a0aa"/>
<path d="M488 812V815Q488 821.700 481 821.700H467V829H483Q496.300 829 496.300 816V812Z" fill="#a9b1ba"/>
<path d="M508.800 812V831Q508.800 838.300 501 838.300H467V845.600H503Q516 845.600 516 833V812Z" fill="#a9b1ba"/>
<!-- chamber shell -->
<rect x="292.700" y="699.200" width="174.800" height="157.800" fill="url(#mWall)"/>
<rect x="301" y="713" width="157.800" height="136.500" fill="#cfd6dd" stroke-width="1.300"/>
</g>
<rect x="310.400" y="729" width="138" height="104" fill="url(#mGlow)"/>
<rect x="308" y="726.500" width="143" height="109" fill="none" stroke="#f6cfa6" stroke-width="3" opacity="0.5"/>
<g stroke="#a5301f" stroke-width="1.300" stroke-linejoin="round" fill="#f5804a">
<path d="M311.5 733.1H328.1V737.1H320.5Q317.5 739.8 320.5 742.6H326.1Q329.1 745.3 326.1 748.0H320.5Q317.5 750.7 320.5 753.5H326.1Q329.1 756.2 326.1 758.9H320.5Q317.5 761.6 320.5 764.4H326.1Q329.1 767.1 326.1 769.8H320.5Q317.5 772.5 320.5 775.2H326.1Q329.1 778.0 326.1 780.7H320.5Q317.5 783.4 320.5 786.1H326.1Q329.1 788.9 326.1 791.6H320.5Q317.5 794.3 320.5 797.0H326.1Q329.1 799.8 326.1 802.5H320.5Q317.5 805.2 320.5 807.9H326.1Q329.1 810.7 326.1 813.4H320.5Q317.5 816.1 320.5 818.8H326.1Q329.1 821.6 326.1 824.3H328.1V828.3H311.5Z"/>
<path d="M447.9 733.1H431.3V737.1H438.9Q441.9 739.8 438.9 742.6H433.3Q430.3 745.3 433.3 748.0H438.9Q441.9 750.7 438.9 753.5H433.3Q430.3 756.2 433.3 758.9H438.9Q441.9 761.6 438.9 764.4H433.3Q430.3 767.1 433.3 769.8H438.9Q441.9 772.5 438.9 775.2H433.3Q430.3 778.0 433.3 780.7H438.9Q441.9 783.4 438.9 786.1H433.3Q430.3 788.9 433.3 791.6H438.9Q441.9 794.3 438.9 797.0H433.3Q430.3 799.8 433.3 802.5H438.9Q441.9 805.2 438.9 807.9H433.3Q430.3 810.7 433.3 813.4H438.9Q441.9 816.1 438.9 818.8H433.3Q430.3 821.6 433.3 824.3H431.3V828.3H447.9Z"/>
</g>
<g stroke="#2f3742" stroke-width="1.600" stroke-linejoin="round">
<!-- columns -->
<rect x="346.300" y="703" width="9.500" height="143.700" fill="url(#mStH)"/>
<rect x="405" y="703" width="9.200" height="143.700" fill="url(#mStH)"/>
<rect x="341.700" y="846.300" width="17.700" height="3.800" fill="#9aa2ac"/>
<rect x="400.400" y="846.300" width="17.700" height="3.800" fill="#9aa2ac"/>
<!-- bolts and top beam -->
<rect x="345.400" y="686.300" width="10.900" height="5.500" fill="url(#mStH)"/>
<rect x="404.200" y="686.300" width="10.400" height="5.500" fill="url(#mStH)"/>
<rect x="336.500" y="691.500" width="86.800" height="11.500" fill="url(#mSt)"/>
<!-- platens -->
<rect x="336.500" y="760.200" width="86.800" height="11.500" fill="url(#mSt)"/>
<rect x="345.800" y="771.700" width="68.400" height="5.400" fill="#aeb5bd"/>
<rect x="356.300" y="777.300" width="46.800" height="14.200" fill="url(#mSample)"/>
<rect x="345.800" y="791.700" width="68.400" height="6" fill="#aeb5bd"/>
<rect x="336.500" y="797.700" width="86.800" height="11.500" fill="url(#mSt)"/>
<!-- blue arrows -->
<path d="M372.300 676H387.300V693H392.800L379.800 707.500L366.800 693H372.300Z" fill="url(#mBlue)" stroke="#1f4f80" stroke-width="1.500"/>
<path d="M370.800 704L379.800 709L388.500 704V740.400H394.800L379.600 755.500L364.200 740.400H370.800Z" fill="url(#mBlue)" stroke="#1f4f80" stroke-width="1.500"/>
<!-- red arrows -->
<path d="M375 843.500V825.800H369.200L379.700 813.300L390 825.800H385.400V843.500" fill="url(#mRedU)" stroke="#8f2a20" stroke-width="1.400"/>
<path d="M262 775.300H249V770.800L232.600 781L249 791.200V787.300H262" fill="url(#mRedL)" stroke="#8f2a20" stroke-width="1.400"/>
<!-- control panel -->
<rect x="477.500" y="733.100" width="56.700" height="80.200" rx="2.500" fill="#b8c0c9"/>
<rect x="483.100" y="739" width="45.400" height="35.200" rx="1.500" fill="#5d6670"/>
<rect x="487.500" y="742.500" width="36.900" height="27.500" fill="#4a9ad6" stroke-width="1"/>
<circle cx="490" cy="784.800" r="3.500" fill="#4fa35b" stroke-width="1.200"/>
<circle cx="505.600" cy="784.800" r="3.500" fill="#6b7580" stroke-width="1.200"/>
<circle cx="521.300" cy="784.800" r="3.500" fill="#d9534a" stroke-width="1.200"/>
<circle cx="505.600" cy="800.200" r="6.300" fill="#8f98a2" stroke-width="1.400"/>
<path d="M505.600 800.200L507 795.500" stroke-width="1.300"/>
</g>
<path d="M489.500 757H496L498.500 750L501.500 763.500L504 755L505.500 757H522.500" fill="none" stroke="#eaf6ff" stroke-width="1.200" stroke-linejoin="round"/>
<!-- leaders -->
<g stroke="#111" stroke-width="1.400" fill="#111">
<path d="M211 706.500H309"/><circle cx="309.800" cy="707" r="2.800"/>
<path d="M205 765H313"/><circle cx="314.200" cy="765.400" r="2.800"/>
<path d="M397 719.500H567"/><circle cx="396.500" cy="720" r="2.800"/>
<path d="M523 803.500H567"/><circle cx="522.300" cy="804" r="2.800"/>
</g>
<text x="200" y="670.4" font-size="25" font-weight="700" fill="#141414" textLength="369" lengthAdjust="spacingAndGlyphs" stroke="#141414" stroke-width="0.6">KEY COMPONENTS OF A VHP SYSTEM</text>
<text x="72" y="712.4" font-size="17.4" font-weight="700" fill="#141414" textLength="131" lengthAdjust="spacingAndGlyphs" stroke="#141414" stroke-width="0.3">VACUUM CHAMBER</text>
<text x="77" y="731.4" font-size="17.4" font-weight="400" fill="#141414" textLength="120" lengthAdjust="spacingAndGlyphs" >(Sealed Enclosure)</text>
<text x="77" y="771.9" font-size="17.4" font-weight="700" fill="#141414" textLength="120" lengthAdjust="spacingAndGlyphs" stroke="#141414" stroke-width="0.3">HEATING SYSTEM</text>
<text x="66" y="789.4" font-size="17.4" font-weight="400" fill="#141414" textLength="142" lengthAdjust="spacingAndGlyphs" >(Resistance Elements,</text>
<text x="92" y="808.4" font-size="17.4" font-weight="400" fill="#141414" textLength="90" lengthAdjust="spacingAndGlyphs" >e.g., Graphite)</text>
<text x="572" y="725.4" font-size="17.4" font-weight="700" fill="#141414" textLength="135" lengthAdjust="spacingAndGlyphs" stroke="#141414" stroke-width="0.3">PRESS MECHANISM</text>
<text x="584" y="743.4" font-size="17.4" font-weight="400" fill="#141414" textLength="111" lengthAdjust="spacingAndGlyphs" >(Hydraulic Ram &amp;</text>
<text x="592" y="762.4" font-size="17.4" font-weight="400" fill="#141414" textLength="96" lengthAdjust="spacingAndGlyphs" >Graphite Rods)</text>
<text x="577" y="809.4" font-size="17.4" font-weight="700" fill="#141414" textLength="126" lengthAdjust="spacingAndGlyphs" stroke="#141414" stroke-width="0.3">CONTROL SYSTEM</text>
<text x="568" y="828.4" font-size="17.4" font-weight="400" fill="#141414" textLength="144" lengthAdjust="spacingAndGlyphs" >(Sensors &amp; Controllers</text>
<text x="596" y="846.4" font-size="17.4" font-weight="400" fill="#141414" textLength="86" lengthAdjust="spacingAndGlyphs" >- The "Brain")</text>
</g>
<!-- s5_apps -->
<g id="s5_apps">

<defs>
<radialGradient id="aBlue" cx="0.6" cy="0.45" r="0.65"><stop offset="0" stop-color="#4b88be"/><stop offset="0.7" stop-color="#3a72a8"/><stop offset="1" stop-color="#2f6195"/></radialGradient>
<radialGradient id="aLens" cx="0.42" cy="0.4" r="0.7"><stop offset="0" stop-color="#d3e6f2"/><stop offset="0.6" stop-color="#b3d1e4"/><stop offset="1" stop-color="#8fb7d1"/></radialGradient>
<radialGradient id="aShadow" cx="0.5" cy="0.5" r="0.5"><stop offset="0" stop-color="#7f8c9b" stop-opacity="0.55"/><stop offset="0.6" stop-color="#9aa6b4" stop-opacity="0.3"/><stop offset="1" stop-color="#c3ccd6" stop-opacity="0"/></radialGradient>
<linearGradient id="aSilver" x1="0" y1="0" x2="1" y2="0"><stop offset="0" stop-color="#b9bec4"/><stop offset="0.45" stop-color="#eceef0"/><stop offset="0.7" stop-color="#b4b9bf"/><stop offset="1" stop-color="#d5d8dc"/></linearGradient>
<linearGradient id="aPile" x1="0" y1="0" x2="1" y2="0"><stop offset="0" stop-color="#7f858c"/><stop offset="0.45" stop-color="#dfe2e5"/><stop offset="1" stop-color="#8b9198"/></linearGradient>
<clipPath id="aClip2"><circle cx="315.300" cy="961.700" r="41.600"/></clipPath>
</defs>
<rect x="0" y="875" width="768" height="157.600" fill="#e0e8f1"/>
<rect x="11" y="893.900" width="168.500" height="1.400" fill="#222"/>
<rect x="590" y="894.300" width="168" height="1.400" fill="#222"/>
<ellipse cx="54" cy="1019" rx="36" ry="5" fill="url(#aShadow)"/>
<ellipse cx="315" cy="1019" rx="36" ry="5" fill="url(#aShadow)"/>
<ellipse cx="555" cy="1019" rx="36" ry="5" fill="url(#aShadow)"/>

<circle cx="54.500" cy="961.200" r="43.600" fill="#f4f8fb"/>
<circle cx="54.500" cy="961.200" r="41.800" fill="#3b6c9f"/>
<circle cx="54.900" cy="962" r="31.500" fill="#c9deea" stroke="#1d2a3a" stroke-width="1.300"/>
<circle cx="54.900" cy="962" r="28.500" fill="#a9cbe0"/>
<circle cx="54" cy="960.500" r="24.500" fill="url(#aLens)" stroke="#7fa6c2" stroke-width="1"/>
<path d="M36 951a22 22 0 0 1 14-12" fill="none" stroke="#eef7fc" stroke-width="2" stroke-linecap="round" opacity="0.9"/>
<ellipse cx="66.500" cy="973" rx="3.800" ry="2.800" fill="#e8f6fd" opacity="0.9" transform="rotate(-35 66.500 973)"/>
<ellipse cx="37.500" cy="959" rx="1.600" ry="1.200" fill="#eef8fd" opacity="0.9"/>

<circle cx="315.300" cy="961.700" r="43.400" fill="#f4f8fb"/>
<circle cx="315.300" cy="961.700" r="41.600" fill="url(#aBlue)"/>
<g clip-path="url(#aClip2)">
<path d="M321.2 949.9L327.0 950.4L327.0 958.6L321.2 959.1L319.4 963.4L323.2 967.9L317.4 973.7L312.9 969.9L308.6 971.7L308.1 977.5L299.9 977.5L299.4 971.7L295.1 969.9L290.6 973.7L284.8 967.9L288.6 963.4L286.8 959.1L281.0 958.6L281.0 950.4L286.8 949.9L288.6 945.6L284.8 941.1L290.6 935.3L295.1 939.1L299.4 937.3L299.9 931.5L308.1 931.5L308.6 937.3L312.9 939.1L317.4 935.3L323.2 941.1L319.4 945.6Z" fill="url(#aSilver)" stroke="#1d2a3a" stroke-width="1.400" stroke-linejoin="round"/>
<circle cx="304" cy="954.500" r="12.800" fill="#c3c7cc" stroke="#1d2a3a" stroke-width="1.300"/>
<circle cx="304" cy="954.500" r="8.400" fill="#3f7cb3" stroke="#1d2a3a" stroke-width="1.300"/>
<path d="M327.500 961.600Q340 970 358 980V984Q330 991 304.500 983Q316 973 327.500 961.600Z" fill="url(#aPile)" stroke="#1d2a3a" stroke-width="1.300" stroke-linejoin="round"/>
<g fill="#1d2a3a" opacity="0.75"><circle cx="300" cy="984" r="0.700"/><circle cx="297" cy="986" r="0.600"/><circle cx="310" cy="989.500" r="0.700"/><circle cx="313" cy="991" r="0.600"/><circle cx="329" cy="990.500" r="0.700"/><circle cx="333" cy="989.500" r="0.600"/><circle cx="307" cy="987.500" r="0.500"/></g>
</g>

<circle cx="555.200" cy="961.200" r="43.800" fill="#f4f8fb"/>
<circle cx="555.200" cy="961.200" r="42" fill="url(#aBlue)"/>
<path d="M555 957L588.6 970.2L556.6 986.6L521.9 971.7Z" fill="#d9dde1" stroke="#1d2a3a" stroke-width="1.200" stroke-linejoin="round"/>
<path d="M521.9 971.7L556.6 986.6V990.6L521.9 975.7Z" fill="#c4c9cf" stroke="#1d2a3a" stroke-width="1.200" stroke-linejoin="round"/>
<path d="M588.6 970.2L556.6 986.6V990.6L588.6 974.2Z" fill="#aab0b7" stroke="#1d2a3a" stroke-width="1.200" stroke-linejoin="round"/>
<path d="M555 946L588.6 959.2L556.6 972.5L521.9 959.7Z" fill="#f0a070" stroke="#1d2a3a" stroke-width="1.200" stroke-linejoin="round"/>
<path d="M521.9 959.7L556.6 972.5V976.5L521.9 963.7Z" fill="#ef9a6c" stroke="#1d2a3a" stroke-width="1.200" stroke-linejoin="round"/>
<path d="M588.6 959.2L556.6 972.5V976.5L588.6 963.2Z" fill="#d9744a" stroke="#1d2a3a" stroke-width="1.200" stroke-linejoin="round"/>
<path d="M555 932.7L588.6 947.5L556.6 962.3L521.9 948.3Z" fill="url(#aSilver)" stroke="#1d2a3a" stroke-width="1.200" stroke-linejoin="round"/>
<path d="M521.9 948.3L556.6 962.3V966.3L521.9 952.3Z" fill="#cfd3d8" stroke="#1d2a3a" stroke-width="1.200" stroke-linejoin="round"/>
<path d="M588.6 947.5L556.6 962.3V966.3L588.6 951.5Z" fill="#a8aeb5" stroke="#1d2a3a" stroke-width="1.200" stroke-linejoin="round"/>
<text x="193" y="904.4" font-size="25" font-weight="700" fill="#141414" textLength="382" lengthAdjust="spacingAndGlyphs" stroke="#141414" stroke-width="0.6">COMMON APPLICATIONS &amp; USE CASES</text>
<text x="107" y="941.2" font-size="17" font-weight="700" fill="#141414" textLength="153" lengthAdjust="spacingAndGlyphs" stroke="#141414" stroke-width="0.3">SINTERING ADVANCED</text>
<text x="107" y="958.2" font-size="17" font-weight="700" fill="#141414" textLength="72" lengthAdjust="spacingAndGlyphs" stroke="#141414" stroke-width="0.3">CERAMICS</text>
<text x="107" y="975.7" font-size="17" font-weight="400" fill="#141414" textLength="98" lengthAdjust="spacingAndGlyphs" >(Optical Clarity,</text>
<text x="107" y="992.4" font-size="17" font-weight="400" fill="#141414" textLength="74" lengthAdjust="spacingAndGlyphs" >Toughness)</text>
<text x="368" y="941.2" font-size="17" font-weight="700" fill="#141414" textLength="59" lengthAdjust="spacingAndGlyphs" stroke="#141414" stroke-width="0.3">POWDER</text>
<text x="368" y="958.2" font-size="17" font-weight="700" fill="#141414" textLength="92" lengthAdjust="spacingAndGlyphs" stroke="#141414" stroke-width="0.3">METALLURGY</text>
<text x="368" y="975.7" font-size="17" font-weight="400" fill="#141414" textLength="128" lengthAdjust="spacingAndGlyphs" >(Dense Metal Parts,</text>
<text x="368" y="992.4" font-size="17" font-weight="400" fill="#141414" textLength="76" lengthAdjust="spacingAndGlyphs" >No Melting)</text>
<text x="609" y="941.2" font-size="17" font-weight="700" fill="#141414" textLength="118" lengthAdjust="spacingAndGlyphs" stroke="#141414" stroke-width="0.3">CREATING NOVEL</text>
<text x="609" y="958.2" font-size="17" font-weight="700" fill="#141414" textLength="91" lengthAdjust="spacingAndGlyphs" stroke="#141414" stroke-width="0.3">COMPOSITES</text>
<text x="609" y="975.7" font-size="17" font-weight="400" fill="#141414" textLength="126" lengthAdjust="spacingAndGlyphs" >(Bonding Dissimilar</text>
<text x="609" y="992.4" font-size="17" font-weight="400" fill="#141414" textLength="66" lengthAdjust="spacingAndGlyphs" >Materials)</text>
</g>
<!-- s6_choice -->
<g id="s6_choice">

<rect x="0" y="1032.500" width="768" height="228" fill="#ffffff"/>
<rect x="313.5" y="1048" width="1.6" height="198" fill="#47678c"/>
<rect x="328" y="1056.3" width="112" height="1.4" fill="#222"/>
<rect x="643" y="1056.3" width="114" height="1.4" fill="#222"/>
<text x="22" y="1067.2" font-size="25.5" font-weight="700" fill="#141414" textLength="272" lengthAdjust="spacingAndGlyphs" stroke="#141414" stroke-width="0.6">MAKING THE RIGHT CHOICE</text>
<text x="457" y="1067.2" font-size="25.5" font-weight="700" fill="#141414" textLength="172" lengthAdjust="spacingAndGlyphs" stroke="#141414" stroke-width="0.6">SUMMARY TABLE</text>
<text x="54" y="1106.6" font-size="17" font-weight="400" fill="#141414" textLength="61.6" lengthAdjust="spacingAndGlyphs" >Achieving</text>
<text x="121.6" y="1106.6" font-size="17" font-weight="700" fill="#141414" textLength="129.4" lengthAdjust="spacingAndGlyphs" stroke="#141414" stroke-width="0.3">MAXIMUM DENSITY</text>
<text x="54" y="1124.2" font-size="17" font-weight="700" fill="#141414" textLength="61.6" lengthAdjust="spacingAndGlyphs" stroke="#141414" stroke-width="0.3">&amp; PURITY</text>
<text x="54" y="1157.0" font-size="17" font-weight="400" fill="#141414" textLength="71" lengthAdjust="spacingAndGlyphs" >Processing</text>
<text x="130.7" y="1157.0" font-size="17" font-weight="700" fill="#141414" textLength="145.6" lengthAdjust="spacingAndGlyphs" stroke="#141414" stroke-width="0.3">REACTIVE MATERIALS</text>
<text x="54" y="1174.6" font-size="17" font-weight="400" fill="#141414" textLength="119.6" lengthAdjust="spacingAndGlyphs" >(Oxygen-Sensitive)</text>
<text x="54" y="1208.0" font-size="17" font-weight="400" fill="#141414" textLength="71.4" lengthAdjust="spacingAndGlyphs" >Restraining</text>
<text x="130.7" y="1208.0" font-size="17" font-weight="700" fill="#141414" textLength="169.5" lengthAdjust="spacingAndGlyphs" stroke="#141414" stroke-width="0.3">CRYSTAL GRAIN GROWTH</text>
<text x="54" y="1226.0" font-size="17" font-weight="400" fill="#141414" textLength="103.8" lengthAdjust="spacingAndGlyphs" >(Nanomaterials)</text>
<path d="M32 1096.3H15Q12.700 1096.3 12.700 1098.6V1120.8Q12.700 1123.1 15 1123.1H37.200Q39.500 1123.1 39.500 1120.8V1106.3" fill="none" stroke="#3d6995" stroke-width="2.800" stroke-linecap="round"/>
<path d="M18.300 1107.8999999999999L25.500 1115.6L42.800 1095.8" fill="none" stroke="#3d6995" stroke-width="4.200" stroke-linecap="round" stroke-linejoin="round"/>
<path d="M32 1147.4H15Q12.700 1147.4 12.700 1149.7V1171.9Q12.700 1174.2 15 1174.2H37.200Q39.500 1174.2 39.500 1171.9V1157.4" fill="none" stroke="#3d6995" stroke-width="2.800" stroke-linecap="round"/>
<path d="M18.300 1159.0L25.500 1166.7L42.800 1146.9" fill="none" stroke="#3d6995" stroke-width="4.200" stroke-linecap="round" stroke-linejoin="round"/>
<path d="M32 1198.7H15Q12.700 1198.7 12.700 1201.0V1223.2Q12.700 1225.5 15 1225.5H37.200Q39.500 1225.5 39.500 1223.2V1208.7" fill="none" stroke="#3d6995" stroke-width="2.800" stroke-linecap="round"/>
<path d="M18.300 1210.3L25.500 1218.0L42.800 1198.2" fill="none" stroke="#3d6995" stroke-width="4.200" stroke-linecap="round" stroke-linejoin="round"/>
<g transform="translate(0 1)">
<rect x="326" y="1091" width="432.500" height="154" fill="#fff"/>
<rect x="326" y="1091" width="432.500" height="31" fill="#2f679f"/>
<rect x="326" y="1153" width="432.500" height="31" fill="#dde7f1"/>
<rect x="326" y="1215" width="432.500" height="30" fill="#dde7f1"/>
<g stroke="#2f4d73" stroke-width="1.4" fill="none">
<rect x="326.500" y="1091.500" width="431.500" height="153.500"/>
<path d="M488.5 1091V1245M326 1122.5H758.500M326 1153.5H758.500M326 1184.5H758.500M326 1215.5H758.500"/>
</g>
<text x="366.5" y="1112.8" font-size="17.5" font-weight="700" fill="#fff" textLength="83.0" lengthAdjust="spacingAndGlyphs" stroke="#fff" stroke-width="0.3">KEY ASPECT</text>
<text x="580.0" y="1112.8" font-size="17.5" font-weight="700" fill="#fff" textLength="87.0" lengthAdjust="spacingAndGlyphs" stroke="#fff" stroke-width="0.3">ROLE IN VHP</text>
<text x="344.0" y="1143.8" font-size="17.5" font-weight="700" fill="#141414" textLength="128.0" lengthAdjust="spacingAndGlyphs" stroke="#141414" stroke-width="0.3">HIGH TEMPERATURE</text>
<text x="344.0" y="1174.8" font-size="17.5" font-weight="700" fill="#141414" textLength="128.0" lengthAdjust="spacingAndGlyphs" stroke="#141414" stroke-width="0.3">UNIFORM PRESSURE</text>
<text x="332.5" y="1205.8" font-size="17.5" font-weight="700" fill="#141414" textLength="151.0" lengthAdjust="spacingAndGlyphs" stroke="#141414" stroke-width="0.3">VACUUM ENVIRONMENT</text>
<text x="330.5" y="1236.8" font-size="17.5" font-weight="700" fill="#141414" textLength="155.0" lengthAdjust="spacingAndGlyphs" stroke="#141414" stroke-width="0.3">PRIMARY APPLICATIONS</text>
<text x="495" y="1143.8" font-size="17.5" font-weight="400" fill="#141414" textLength="231" lengthAdjust="spacingAndGlyphs" >Promotes atomic diffusion &amp; sintering</text>
<text x="495" y="1174.8" font-size="17.5" font-weight="400" fill="#141414" textLength="257" lengthAdjust="spacingAndGlyphs" >Eliminates porosity, achieves densification</text>
<text x="495" y="1205.8" font-size="17.5" font-weight="400" fill="#141414" textLength="211" lengthAdjust="spacingAndGlyphs" >Prevents oxidation, removes gases</text>
<text x="495" y="1236.8" font-size="17.5" font-weight="400" fill="#141414" textLength="253" lengthAdjust="spacingAndGlyphs" >Ceramics, powder metallurgy, composites</text>
</g>
</g>
<!-- s7_footer -->
<g id="s7_footer">

<rect x="0" y="1260" width="768" height="116" fill="#1b2c44"/>
<path d="M259.500 1260H768V1376H335.500Z" fill="#d3242b"/>
<path d="M251 1260H260.300L336 1376H326.700Z" fill="#c3c8ce"/>
<defs><linearGradient id="kRed" x1="0" y1="0" x2="0" y2="1"><stop offset="0" stop-color="#e02a30"/><stop offset="1" stop-color="#cc2128"/></linearGradient></defs>
<path d="M33 1287H246Q252.500 1287 250.800 1293L243.300 1319.500Q241.800 1325 236 1325H22.500Q15.500 1325 17.300 1319L25.300 1293Q27.200 1287 33 1287Z" transform="translate(2.53 11.5)" fill="#b81d24"/>
<path d="M33 1287H246Q252.500 1287 250.800 1293L243.300 1319.500Q241.800 1325 236 1325H22.500Q15.500 1325 17.300 1319L25.300 1293Q27.200 1287 33 1287Z" transform="translate(2.42 11.0)" fill="#b81d24"/>
<path d="M33 1287H246Q252.500 1287 250.800 1293L243.300 1319.500Q241.800 1325 236 1325H22.500Q15.500 1325 17.300 1319L25.300 1293Q27.200 1287 33 1287Z" transform="translate(2.31 10.5)" fill="#b81d24"/>
<path d="M33 1287H246Q252.500 1287 250.800 1293L243.300 1319.500Q241.800 1325 236 1325H22.500Q15.500 1325 17.300 1319L25.300 1293Q27.200 1287 33 1287Z" transform="translate(2.20 10.0)" fill="#b81d24"/>
<path d="M33 1287H246Q252.500 1287 250.800 1293L243.300 1319.500Q241.800 1325 236 1325H22.500Q15.500 1325 17.300 1319L25.300 1293Q27.200 1287 33 1287Z" transform="translate(2.09 9.5)" fill="#b81d24"/>
<path d="M33 1287H246Q252.500 1287 250.800 1293L243.300 1319.500Q241.800 1325 236 1325H22.500Q15.500 1325 17.300 1319L25.300 1293Q27.200 1287 33 1287Z" transform="translate(1.98 9.0)" fill="#b81d24"/>
<path d="M33 1287H246Q252.500 1287 250.800 1293L243.300 1319.500Q241.800 1325 236 1325H22.500Q15.500 1325 17.300 1319L25.300 1293Q27.200 1287 33 1287Z" transform="translate(1.87 8.5)" fill="#b81d24"/>
<path d="M33 1287H246Q252.500 1287 250.800 1293L243.300 1319.500Q241.800 1325 236 1325H22.500Q15.500 1325 17.300 1319L25.300 1293Q27.200 1287 33 1287Z" transform="translate(1.76 8.0)" fill="#b81d24"/>
<path d="M33 1287H246Q252.500 1287 250.800 1293L243.300 1319.500Q241.800 1325 236 1325H22.500Q15.500 1325 17.300 1319L25.300 1293Q27.200 1287 33 1287Z" transform="translate(1.65 7.5)" fill="#b81d24"/>
<path d="M33 1287H246Q252.500 1287 250.800 1293L243.300 1319.500Q241.800 1325 236 1325H22.500Q15.500 1325 17.300 1319L25.300 1293Q27.200 1287 33 1287Z" transform="translate(1.54 7.0)" fill="#b81d24"/>
<path d="M33 1287H246Q252.500 1287 250.800 1293L243.300 1319.500Q241.800 1325 236 1325H22.500Q15.500 1325 17.300 1319L25.300 1293Q27.200 1287 33 1287Z" transform="translate(1.43 6.5)" fill="#f2f3f5"/>
<path d="M33 1287H246Q252.500 1287 250.800 1293L243.300 1319.500Q241.800 1325 236 1325H22.500Q15.500 1325 17.300 1319L25.300 1293Q27.200 1287 33 1287Z" transform="translate(1.32 6.0)" fill="#f2f3f5"/>
<path d="M33 1287H246Q252.500 1287 250.800 1293L243.300 1319.500Q241.800 1325 236 1325H22.500Q15.500 1325 17.300 1319L25.300 1293Q27.200 1287 33 1287Z" transform="translate(1.21 5.5)" fill="#f2f3f5"/>
<path d="M33 1287H246Q252.500 1287 250.800 1293L243.300 1319.500Q241.800 1325 236 1325H22.500Q15.500 1325 17.300 1319L25.300 1293Q27.200 1287 33 1287Z" transform="translate(1.10 5.0)" fill="#f2f3f5"/>
<path d="M33 1287H246Q252.500 1287 250.800 1293L243.300 1319.500Q241.800 1325 236 1325H22.500Q15.500 1325 17.300 1319L25.300 1293Q27.200 1287 33 1287Z" transform="translate(0.99 4.5)" fill="#f2f3f5"/>
<path d="M33 1287H246Q252.500 1287 250.800 1293L243.300 1319.500Q241.800 1325 236 1325H22.500Q15.500 1325 17.300 1319L25.300 1293Q27.200 1287 33 1287Z" transform="translate(0.88 4.0)" fill="#f2f3f5"/>
<path d="M33 1287H246Q252.500 1287 250.800 1293L243.300 1319.500Q241.800 1325 236 1325H22.500Q15.500 1325 17.300 1319L25.300 1293Q27.200 1287 33 1287Z" transform="translate(0.77 3.5)" fill="#f2f3f5"/>
<path d="M33 1287H246Q252.500 1287 250.800 1293L243.300 1319.500Q241.800 1325 236 1325H22.500Q15.500 1325 17.300 1319L25.300 1293Q27.200 1287 33 1287Z" transform="translate(0.66 3.0)" fill="#f2f3f5"/>
<path d="M33 1287H246Q252.500 1287 250.800 1293L243.300 1319.500Q241.800 1325 236 1325H22.500Q15.500 1325 17.300 1319L25.300 1293Q27.200 1287 33 1287Z" transform="translate(0.55 2.5)" fill="#f2f3f5"/>
<path d="M33 1287H246Q252.500 1287 250.800 1293L243.300 1319.500Q241.800 1325 236 1325H22.500Q15.500 1325 17.300 1319L25.300 1293Q27.200 1287 33 1287Z" transform="translate(0.44 2.0)" fill="#f2f3f5"/>
<path d="M33 1287H246Q252.500 1287 250.800 1293L243.300 1319.500Q241.800 1325 236 1325H22.500Q15.500 1325 17.300 1319L25.300 1293Q27.200 1287 33 1287Z" transform="translate(0.33 1.5)" fill="#f2f3f5"/>
<path d="M33 1287H246Q252.500 1287 250.800 1293L243.300 1319.500Q241.800 1325 236 1325H22.500Q15.500 1325 17.300 1319L25.300 1293Q27.200 1287 33 1287Z" transform="translate(0.22 1.0)" fill="#f2f3f5"/>
<path d="M33 1287H246Q252.500 1287 250.800 1293L243.300 1319.500Q241.800 1325 236 1325H22.500Q15.500 1325 17.300 1319L25.300 1293Q27.200 1287 33 1287Z" transform="translate(0.11 0.5)" fill="#f2f3f5"/>
<path d="M33 1287H246Q252.500 1287 250.800 1293L243.300 1319.500Q241.800 1325 236 1325H22.500Q15.500 1325 17.300 1319L25.300 1293Q27.200 1287 33 1287Z" fill="url(#kRed)"/>
<text x="42.500 81 103.500 141.500 171 203" y="1321.500" font-size="40.500" font-weight="700" font-style="italic" fill="#fff" stroke="#fff" stroke-width="1.800">KINTEK</text>
<text x="16" y="1363.9" font-size="18" font-weight="400" fill="#fff" textLength="133" lengthAdjust="spacingAndGlyphs" >kintekfurnace.com</text>
<text x="167" y="1363.9" font-size="18" font-weight="400" fill="#fff" textLength="102" lengthAdjust="spacingAndGlyphs" >#ContactForm</text>
<text x="335" y="1289.9" font-size="22.8" font-weight="700" fill="#fff" textLength="422" lengthAdjust="spacingAndGlyphs" stroke="#fff" stroke-width="0.6">READY TO ENGINEER SUPERIOR MATERIALS?</text>
<text x="431.5" y="1308.9" font-size="18" font-weight="400" fill="#fff" textLength="229.0" lengthAdjust="spacingAndGlyphs" >Leveraging exceptional R&amp;D,</text>
<text x="361.0" y="1329.4" font-size="18" font-weight="400" fill="#fff" textLength="370.0" lengthAdjust="spacingAndGlyphs" >KINTEK provides advanced furnace solutions.</text>
<rect x="466" y="1338" width="167" height="29" rx="14.5" fill="#dfe4ea"/>
<text x="478" y="1359.7" font-size="18.5" font-weight="700" fill="#111" textLength="143" lengthAdjust="spacingAndGlyphs" stroke="#111" stroke-width="0.3">CONTACT US TODAY</text>
</g>

</svg>
</body></html>
